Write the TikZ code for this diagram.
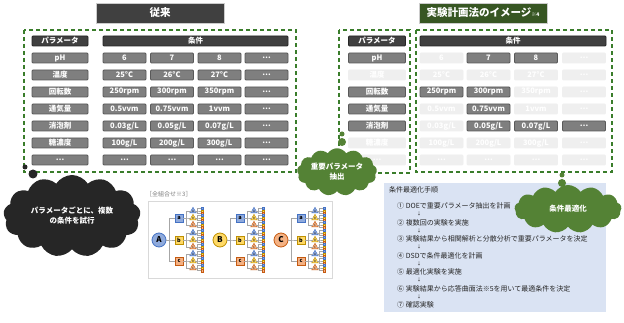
\documentclass[tikz,border=0pt]{standalone}
\usepackage{fontspec}
\setmainfont{Noto Sans CJK JP}
\usetikzlibrary{shapes.symbols,shapes.geometric}
\definecolor{pillfill}{HTML}{7F7F7F}
\definecolor{pillline}{HTML}{595959}
\definecolor{headfill}{HTML}{404040}
\definecolor{headline}{HTML}{262626}
\definecolor{offfill}{HTML}{EFEFEF}
\definecolor{dashgreen}{HTML}{3A7D2B}
\definecolor{titlegreen}{HTML}{375623}
\definecolor{cloudgreen}{HTML}{548235}
\definecolor{cloudblack}{HTML}{262626}
\definecolor{panelblue}{HTML}{DAE3F3}
\definecolor{tblue}{HTML}{8FAADC}
\definecolor{tblueD}{HTML}{4472C4}
\definecolor{tyellow}{HTML}{FFD966}
\definecolor{tyellowD}{HTML}{BF9000}
\definecolor{torange}{HTML}{F4B183}
\definecolor{torangeD}{HTML}{C55A11}
\definecolor{treeline}{HTML}{A6A6A6}
\begin{document}
\begin{tikzpicture}[x=1pt,y=-1pt,
  pill/.style={draw=pillline, fill=pillfill, rounded corners=1pt, line width=0.8pt,
    minimum height=10pt, inner sep=0pt, text=white, font=\bfseries\fontsize{7.5}{8}\selectfont},
  pilloff/.style={draw=offfill, fill=offfill, rounded corners=1pt, line width=0.8pt,
    minimum height=10pt, inner sep=0pt, text=white, font=\bfseries\fontsize{7.5}{8}\selectfont},
  head/.style={pill, draw=headline, fill=headfill},
  st/.code={\ifnum#1=1 \pgfkeysalso{pill}\else\pgfkeysalso{pilloff}\fi},
  dbox/.style={draw=dashgreen, line width=1.2pt, dash pattern=on 4pt off 3pt},
  titlebox/.style={draw=gray!40, line width=0.8pt, minimum width=128pt, minimum height=20pt,
    inner sep=0pt, text=white, font=\bfseries\fontsize{10.5}{12}\selectfont},
  cloudnode/.style={cloud, cloud puffs=13, cloud puff arc=115, draw=none, text=white,
    align=center, inner sep=0pt, font=\bfseries\fontsize{7.5}{10}\selectfont},
  bubble/.style={circle, draw=none, inner sep=0pt},
  steptext/.style={anchor=west, inner sep=0pt, text=headline, font=\fontsize{7}{8}\selectfont},
  downarrow/.style={inner sep=0pt, text=headline, font=\fontsize{4.5}{5}\selectfont},
  tline/.style={draw=treeline, line width=0.6pt},
  tcirc/.style={circle, minimum size=14pt, inner sep=0pt, line width=0.8pt, font=\bfseries\fontsize{8}{8}\selectfont},
  tsq/.style={rectangle, minimum size=8pt, inner sep=0pt, line width=0.6pt, font=\bfseries\fontsize{5.5}{6}\selectfont},
  ttri/.style={regular polygon, regular polygon sides=3, minimum size=7.5pt, inner sep=0pt, line width=0.4pt, font=\fontsize{3}{3}\selectfont},
  ttiny/.style={rectangle, minimum size=2.2pt, inner sep=0pt, line width=0.3pt}
]
\useasboundingbox (0,0) rectangle (624,323);
\fill[white] (0,0) rectangle (624,323);

% ---------- titles ----------
\node[titlebox, fill=headfill] (T1) at (160,13) {従来};
\node[titlebox, fill=titlegreen] (T2) at (483,13) {実験計画法のイメージ{\fontsize{5}{6}\selectfont ※4}};

% ---------- dashed boxes ----------
\draw[dbox] (24,30) rectangle (296,172);
\draw[dbox] (339,30) rectangle (410,173);
\draw[dbox] (416,30) rectangle (612,172);

% ---------- left table ----------
\node[head, minimum width=56pt] (LH0) at (60,41) {パラメータ};
\node[head, minimum width=185pt] (LH1) at (195.5,41) {条件};
\foreach \p/\a/\b/\c [count=\i] in {pH/6/7/8, 温度/25°C/26°C/27°C, 回転数/250rpm/300rpm/350rpm,
   通気量/0.5vvm/0.75vvm/1vvm, 消泡剤/{0.03g/L}/{0.05g/L}/{0.07g/L},
   糖濃度/{100g/L}/{200g/L}/{300g/L}, …/…/…/…}{
  \pgfmathsetmacro\yy{41+17*\i}
  \node[pill, minimum width=56pt] (LP\i) at (60,\yy) {\p};
  \node[pill, minimum width=43pt] (LA\i) at (124.5,\yy) {\a};
  \node[pill, minimum width=43pt] (LB\i) at (172,\yy) {\b};
  \node[pill, minimum width=43pt] (LC\i) at (219.5,\yy) {\c};
  \node[pill, minimum width=43pt] (LD\i) at (266.5,\yy) {…};
}

% ---------- right table ----------
\node[head, minimum width=57pt] (RH0) at (377,41) {パラメータ};
\node[head, minimum width=186pt] (RH1) at (513,41) {条件};
\foreach \p/\ps/\a/\as/\b/\bs/\c/\cs/\ds [count=\i] in {
   pH/1/6/0/7/1/8/1/0,
   温度/0/25°C/0/26°C/0/27°C/0/0,
   回転数/1/250rpm/1/300rpm/1/350rpm/0/0,
   通気量/1/0.5vvm/0/0.75vvm/1/1vvm/0/0,
   消泡剤/1/{0.03g/L}/0/{0.05g/L}/1/{0.07g/L}/1/1,
   糖濃度/0/{100g/L}/0/{200g/L}/0/{300g/L}/0/0,
   …/0/…/0/…/0/…/0/0}{
  \pgfmathsetmacro\yy{41+17*\i}
  \node[st=\ps, minimum width=57pt] (RP\i) at (377,\yy) {\p};
  \node[st=\as, minimum width=43pt] (RA\i) at (441.5,\yy) {\a};
  \node[st=\bs, minimum width=43pt] (RB\i) at (488.5,\yy) {\b};
  \node[st=\cs, minimum width=43pt] (RC\i) at (536,\yy) {\c};
  \node[st=\ds, minimum width=43pt] (RD\i) at (584,\yy) {…};
}

% ---------- procedure panel ----------
\fill[panelblue] (384,183) rectangle (606,312);
\node[steptext] (S0) at (389,190) {条件最適化手順};
\node[steptext] (S1) at (397,206) {① DOEで重要パラメータ抽出を計画};
\node[steptext] (S2) at (397,222.5) {② 複数回の実験を実施};
\node[steptext] (S3) at (397,239) {③ 実験結果から相関解析と分散分析で重要パラメータを決定};
\node[steptext] (S4) at (397,255.5) {④ DSDで条件最適化を計画};
\node[steptext] (S5) at (397,272) {⑤ 最適化実験を実施};
\node[steptext] (S6) at (397,288.5) {⑥ 実験結果から応答曲面法※5を用いて最適条件を決定};
\node[steptext] (S7) at (397,305) {⑦ 確認実験};
\foreach \k/\yy in {1/214.2,2/230.7,3/247.2,4/263.7,5/280.2,6/296.7}{
  \node[downarrow] (DA\k) at (419,\yy) {↓};
}

% ---------- all-combination tree ----------
\node[anchor=west, inner sep=0pt, text=gray, font=\fontsize{6}{7}\selectfont] (TL) at (146,194) {［全組合せ※3］};
\draw[draw=gray!30, line width=1pt] (148,202) rectangle (332,278);
\foreach \L/\x/\cf/\cd in {A/159/tblue/tblueD, B/220/tyellow/tyellowD, C/281/torange/torangeD}{
  \node[tcirc, fill=\cf, draw=\cd] (X\L) at (\x,240) {\L};
  \foreach \s/\sy/\sf/\sd in {a/218/tblue/tblueD, b/240/tyellow/tyellowD, c/261/torange/torangeD}{
    \node[tsq, fill=\sf, draw=\sd] (X\L\s) at (\x+20,\sy) {\s};
    \draw[tline] (X\L.east) -- ++(3,0) |- (X\L\s.west);
    \foreach \t/\dy/\tf/\td in {A/-7/tblue/tblueD, B/0/tyellow/tyellowD, C/7/torange/torangeD}{
      \node[ttri, fill=\tf, draw=\td] (X\L\s\t) at (\x+34,\sy+\dy) {\t};
      \draw[tline] (X\L\s.east) -- ++(3,0) |- (X\L\s\t.west);
      \foreach \m/\my/\mf/\md in {1/-2.6/tblue/tblueD, 2/0/tyellow/tyellowD, 3/2.6/torange/torangeD}{
        \node[ttiny, fill=\mf, draw=\md] (X\L\s\t\m) at (\x+43,\sy+\dy+\my) {};
        \draw[tline, line width=0.3pt] (X\L\s\t.east) -- ++(2,0) |- (X\L\s\t\m.west);
      }
    }
  }
}

% ---------- clouds ----------
\node[bubble, fill=cloudblack, minimum size=5pt] (BB1) at (25,167) {};
\node[bubble, fill=cloudblack, minimum size=9pt] (BB2) at (33,174) {};
\node[cloudnode, fill=cloudblack, minimum width=137pt, minimum height=82pt, aspect=1.7] (CB) at (72,216)
  {パラメータごとに、複数\\の条件を試行};

\node[bubble, fill=cloudgreen, minimum size=5pt] (GB1) at (342,134) {};
\node[bubble, fill=cloudgreen, minimum size=8pt] (GB2) at (342,142) {};
\node[cloudnode, fill=cloudgreen, minimum width=80pt, minimum height=42pt, aspect=1.9] (CG1) at (337,172)
  {重要パラメータ\\抽出};

\node[bubble, fill=cloudgreen, minimum size=5pt] (GB3) at (562,175) {};
\node[bubble, fill=cloudgreen, minimum size=8pt] (GB4) at (562,183) {};
\node[cloudnode, fill=cloudgreen, minimum width=107pt, minimum height=48pt, aspect=2.2] (CG2) at (568,209)
  {条件最適化};
\end{tikzpicture}
\end{document}
